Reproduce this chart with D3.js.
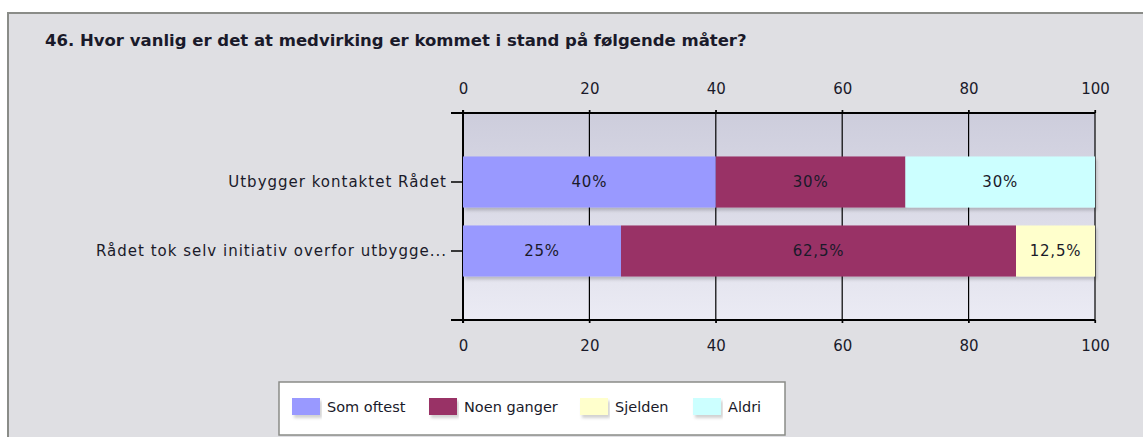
<!DOCTYPE html>
<html lang="no">
  <head>
    <meta charset="UTF-8" />
    <title>46. Hvor vanlig er det at medvirking er kommet i stand</title>
    <script src="https://d3js.org/d3.v7.min.js"></script>
    <style>
      body { margin: 0; background: #fff; }
      text { font-family: Tahoma, "DejaVu Sans", sans-serif; fill: #1a1a2a; }
    </style>
  </head>
  <body>
    <svg width="1143" height="437"></svg>
    <script>
      // data
      const categories = ["Utbygger kontaktet Rådet", "Rådet tok selv initiativ overfor utbygge..."];
      const seriesNames = ["Som oftest", "Noen ganger", "Sjelden", "Aldri"];
      const seriesColors = ["#9999ff", "#993366", "#ffffcc", "#ccffff"];
      const somOftest = [40, 25];
      const noenGanger = [30, 62.5];
      const sjelden = [0, 12.5];
      const aldri = [30, 0];
      const tickValues = [0, 20, 40, 60, 80, 100];

      const table = categories.map((c, i) => ({
        cat: c,
        "Som oftest": somOftest[i],
        "Noen ganger": noenGanger[i],
        "Sjelden": sjelden[i],
        "Aldri": aldri[i]
      }));

      const svg = d3.select("svg");
      const plotLeft = 463, plotRight = 1095, plotTop = 113, plotBottom = 320;

      const defs = svg.append("defs");
      const grad = defs.append("linearGradient").attr("id", "plotbg")
        .attr("x1", 0).attr("y1", 0).attr("x2", 0).attr("y2", 1);
      grad.append("stop").attr("offset", "0%").attr("stop-color", "#cdcddc");
      grad.append("stop").attr("offset", "100%").attr("stop-color", "#ebebf4");
      const shadow = defs.append("filter").attr("id", "shadow")
        .attr("x", "-5%").attr("y", "-20%").attr("width", "110%").attr("height", "150%");
      shadow.append("feDropShadow").attr("dx", 2).attr("dy", 3)
        .attr("stdDeviation", 1.5).attr("flood-color", "#000").attr("flood-opacity", 0.18);

      // outer frame
      svg.append("rect").attr("x", 8).attr("y", 13).attr("width", 1140).attr("height", 440)
        .attr("fill", "#dfdfe3").attr("stroke", "#8a8c88").attr("stroke-width", 2);

      svg.append("text").attr("x", 45).attr("y", 46)
        .style("font-weight", "bold").style("font-size", "16.5px")
        .text("46. Hvor vanlig er det at medvirking er kommet i stand på følgende måter?");

      const x = d3.scaleLinear().domain([0, 100]).range([plotLeft, plotRight]);
      const y = d3.scaleBand().domain(categories).range([plotTop, plotBottom])
        .paddingInner(0.26).paddingOuter(0.63);

      svg.append("rect").attr("x", plotLeft).attr("y", plotTop)
        .attr("width", plotRight - plotLeft).attr("height", plotBottom - plotTop)
        .attr("fill", "url(#plotbg)");

      // gridlines
      svg.append("g").selectAll("line").data(tickValues).join("line")
        .attr("x1", d => x(d)).attr("x2", d => x(d))
        .attr("y1", plotTop - 3).attr("y2", plotBottom + 3)
        .attr("stroke", "#000").attr("stroke-width", d => (d === 0 ? 2 : 1.2));

      // stacked bars
      const stack = d3.stack().keys(seriesNames)(table);
      const color = d3.scaleOrdinal().domain(seriesNames).range(seriesColors);
      const barG = svg.append("g");
      stack.forEach(layer => {
        barG.append("g").attr("fill", color(layer.key))
          .selectAll("rect").data(layer.filter(d => d[1] > d[0])).join("rect")
          .attr("x", d => x(d[0]))
          .attr("y", d => y(d.data.cat))
          .attr("width", d => x(d[1]) - x(d[0]))
          .attr("height", y.bandwidth())
          .attr("filter", "url(#shadow)");
      });
      stack.forEach(layer => {
        barG.append("g").selectAll("text").data(layer.filter(d => d[1] > d[0])).join("text")
          .attr("x", d => (x(d[0]) + x(d[1])) / 2)
          .attr("y", d => y(d.data.cat) + y.bandwidth() / 2)
          .attr("text-anchor", "middle").attr("dy", "0.35em")
          .style("font-size", "15px").style("letter-spacing", "0.8px")
          .text(d => String(d[1] - d[0]).replace(".", ",") + "%");
      });

      // top / bottom axes
      const axisTop = d3.axisTop(x).tickValues(tickValues).tickSize(3).tickPadding(16.5);
      const axisBottom = d3.axisBottom(x).tickValues(tickValues).tickSize(3).tickPadding(17);
      [[axisTop, plotTop], [axisBottom, plotBottom]].forEach(([ax, yy]) => {
        const g = svg.append("g").attr("transform", `translate(0,${yy})`).call(ax);
        g.select(".domain").remove();
        g.append("line").attr("x1", plotLeft - 12).attr("x2", plotRight).attr("stroke", "#000").attr("stroke-width", 2);
        g.selectAll(".tick line").attr("stroke", "#000").attr("stroke-width", 1.2);
        g.selectAll(".tick text").style("font-size", "15px").attr("fill", "#1a1a2a")
          .style("font-family", 'Tahoma, "DejaVu Sans", sans-serif');
      });

      // category axis
      const ay = d3.axisLeft(y).tickSize(12).tickPadding(4);
      const gy = svg.append("g").attr("transform", `translate(${plotLeft},0)`).call(ay);
      gy.select(".domain").remove();
      gy.selectAll(".tick line").attr("stroke", "#000").attr("stroke-width", 1.5);
      gy.selectAll(".tick text").style("font-size", "15px").style("letter-spacing", "1px")
        .attr("fill", "#1a1a2a")
        .style("font-family", 'Tahoma, "DejaVu Sans", sans-serif');

      // legend
      svg.append("rect").attr("x", 279).attr("y", 382).attr("width", 506).attr("height", 53)
        .attr("fill", "#fff").attr("stroke", "#8a8c88").attr("stroke-width", 1.5);
      const legendX = [292, 429, 580, 693];
      const lg = svg.append("g").selectAll("g").data(seriesNames).join("g")
        .attr("transform", (d, i) => `translate(${legendX[i]},398)`);
      lg.append("rect").attr("width", 28).attr("height", 17)
        .attr("fill", d => color(d)).attr("filter", "url(#shadow)");
      lg.append("text").attr("x", 35).attr("y", 9).attr("dy", "0.35em")
        .style("font-size", "14.5px").text(d => d);
    </script>
  </body>
</html>
